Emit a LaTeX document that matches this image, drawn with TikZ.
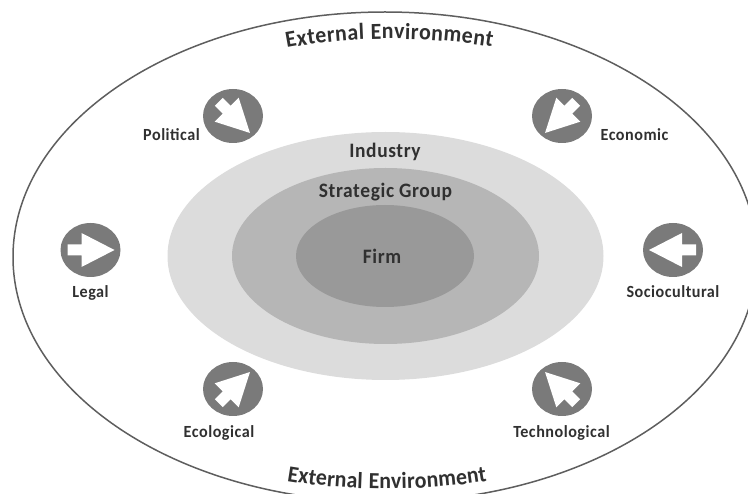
\documentclass[tikz,border=0pt]{standalone}
\usepackage{fontspec}
\setmainfont{Carlito}
\newfontfamily\lblfont[FakeStretch=0.95,LetterSpace=3]{Carlito Bold}
\usetikzlibrary{shapes.geometric,decorations.text}
\definecolor{indfill}{HTML}{DCDCDC}
\definecolor{stratfill}{HTML}{B6B6B6}
\definecolor{firmfill}{HTML}{999999}
\definecolor{badgefill}{HTML}{7A7A7A}
\definecolor{inkdark}{HTML}{303030}
\definecolor{ringline}{HTML}{5E5E5E}
\tikzset{
  zone/.style={ellipse,draw=none,inner sep=0pt},
  badge/.style={ellipse,fill=badgefill,draw=none,minimum width=60pt,minimum height=54pt,inner sep=0pt},
  lbl/.style={text=inkdark,font=\lblfont\fontsize{17}{18}\selectfont,inner sep=0pt,anchor=base},
  biglbl/.style={text=inkdark,font=\lblfont\fontsize{20.5}{21}\selectfont,inner sep=0pt,anchor=base},
  curvetext/.style={decorate,decoration={text along path,text align=fit to path,
    text format delimiters={|}{|},text={|\lblfont\fontsize{23}{23}\selectfont\color{inkdark}|#1}}}
}
\begin{document}
\begin{tikzpicture}[x=1pt,y=-1pt]
\useasboundingbox (0,0) rectangle (748,494);
\begin{scope}
\clip (0,0) rectangle (748,494);
\node[ellipse,draw=ringline,line width=1.5pt,minimum width=744pt,minimum height=490pt,inner sep=0pt] (outer) at (385,257) {};
\end{scope}
\node[zone,fill=indfill,minimum width=436pt,minimum height=248pt] (industry) at (385.5,256) {};
\node[zone,fill=stratfill,minimum width=307pt,minimum height=176pt] (strategic) at (385.5,256) {};
\node[zone,fill=firmfill,minimum width=178pt,minimum height=102pt] (firm) at (385,256) {};
\node[biglbl] (firmL) at (382,263.5) {Firm};
\node[biglbl] (industryL) at (385,158) {Industry};
\node[biglbl] (strategicL) at (385.5,198) {Strategic Group};
\foreach \nm/\cx/\cy/\rot/\tail in {pol/233/116/-45/20,eco/562/116/-135/20,soc/673/250/180/23,leg/90.5/250/0/23,ecl/233/389/45/20,tec/562/389/135/20}{
  \node[badge] (\nm) at (\cx,\cy) {};
  \fill[white,shift={(\nm.center)},rotate=\rot]
    (24,0) -- (-9,17) -- (-9,5.5) -- (-\tail,5.5) -- (-\tail,-5.5) -- (-9,-5.5) -- (-9,-17) -- cycle;
}
\node[lbl] (polL) at (171.5,140.5) {Political};
\node[lbl] (ecoL) at (634.5,140.5) {Economic};
\node[lbl] (socL) at (673,297.5) {Sociocultural};
\node[lbl] (legL) at (90.5,297.5) {Legal};
\node[lbl] (eclL) at (219,437.5) {Ecological};
\node[lbl] (tecL) at (561.5,437.5) {Technological};
\path[curvetext={External Environment}] (287,48) .. controls (350,36) and (425,36) .. (492,47);
\path[curvetext={External Environment}] (287,481) .. controls (350,491.5) and (425,491.5) .. (487,481);
\end{tikzpicture}
\end{document}
